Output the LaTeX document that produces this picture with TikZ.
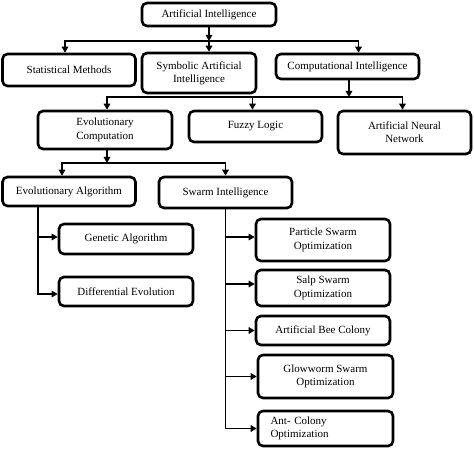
\documentclass[tikz,border=0pt]{standalone}
\usepackage{fontspec}
\setmainfont{Liberation Serif}
\usetikzlibrary{arrows.meta}
\tikzset{
  blk/.style={draw, line width=2.6pt, rounded corners=5pt, align=center, inner sep=1pt,
    font=\fontsize{11}{13.3}\selectfont},
  link/.style={line width=1.6pt, ->, >={Triangle[length=6pt,width=6.5pt]}},
}
\begin{document}
\begin{tikzpicture}[x=1pt,y=-1pt]
  \useasboundingbox (0,0) rectangle (474,449);
  % top rows
  \node[blk, minimum width=134pt, minimum height=23pt] (ai) at (209,14.5) {Artificial Intelligence};
  \node[blk, minimum width=133pt, minimum height=32pt] (stat) at (69,70) {Statistical Methods};
  \node[blk, minimum width=114pt, minimum height=40pt] (sym) at (199,73) {Symbolic Artificial\\Intelligence};
  \node[blk, minimum width=143pt, minimum height=25pt] (comp) at (347.5,66.5) {Computational Intelligence};
  \node[blk, minimum width=134pt, minimum height=38pt] (evo) at (105,130) {Evolutionary\\Computation};
  \node[blk, minimum width=133pt, minimum height=31pt] (fuzzy) at (255.5,126.5) {Fuzzy Logic};
  \node[blk, minimum width=133pt, minimum height=43pt] (ann) at (404.5,132.5) {Artificial Neural\\Network};
  % evolutionary and swarm branches
  \node[blk, minimum width=133pt, minimum height=29pt] (ea) at (69,191.5) {Evolutionary Algorithm};
  \node[blk, minimum width=133pt, minimum height=31pt] (si) at (225.5,192.5) {Swarm Intelligence};
  \node[blk, minimum width=134pt, minimum height=30pt] (ga) at (126,239) {Genetic Algorithm};
  \node[blk, minimum width=134pt, minimum height=29pt] (de) at (126,291.5) {Differential Evolution};
  \node[blk, minimum width=134pt, minimum height=42pt] (pso) at (323,240) {Particle Swarm\\Optimization};
  \node[blk, minimum width=134pt, minimum height=36pt] (salp) at (323,288) {Salp Swarm\\Optimization};
  \node[blk, minimum width=134pt, minimum height=29pt] (abc) at (323,330.5) {Artificial Bee Colony};
  \node[blk, minimum width=135pt, minimum height=43pt] (glow) at (325.5,376.5) {Glowworm Swarm\\Optimization};
  \node[blk, align=left, text width=110pt, minimum width=135pt, minimum height=35pt] (ant) at (325.5,428.5) {Ant- Colony\\Optimization};
  % connectors
  \coordinate (j1) at (209,41);
  \draw[link] (ai) -- (j1);
  \draw[link] (j1) -| ([xshift=-4pt]stat.north);
  \draw[link] (j1) -- (j1 |- sym.north);
  \draw[link] (j1) -| ([xshift=11pt]comp.north);
  \coordinate (j2) at (349,97);
  \draw[link] (comp.south -| j2) -- (j2);
  \draw[link] (j2) -| ([xshift=2pt]evo.north);
  \draw[link] (j2) -| ([xshift=-3pt]fuzzy.north);
  \draw[link] (j2) -| ([xshift=-2pt]ann.north);
  \coordinate (j3) at (107,163);
  \draw[link] (evo.south -| j3) -- (j3);
  \draw[link] (j3) -| ([xshift=-7pt]ea.north);
  \draw[link] (j3) -| (si.north);
  \draw[link] ([xshift=37pt]ea.south west) |- ([yshift=2pt]ga.west);
  \draw[link] ([xshift=37pt]ea.south west) |- ([yshift=-2.5pt]de.west);
  \draw[link] (si.south) |- ([yshift=3pt]pso.west);
  \draw[link] (si.south) |- ([yshift=4pt]salp.west);
  \draw[link] (si.south) |- (abc.west);
  \draw[link] (si.south) |- (glow.west);
  \draw[link] (si.south) |- (ant.west);
\end{tikzpicture}
\end{document}
